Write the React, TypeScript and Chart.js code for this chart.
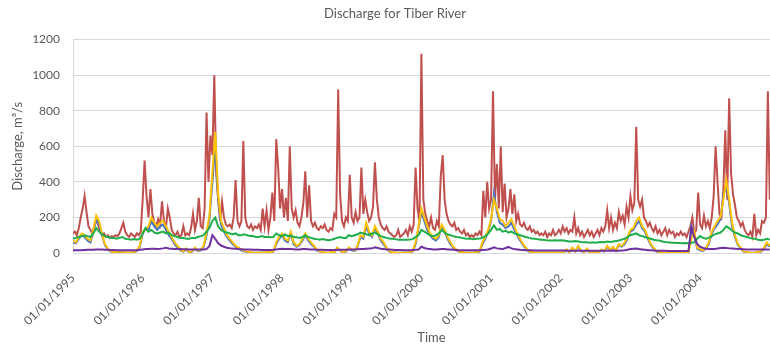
import { useEffect, useRef } from 'react';
import { Chart, registerables } from 'chart.js';

Chart.register(...registerables);

// Time axis: decimal years, first sample on 01/01/1995
const START_YEAR = 1995;
const TICK_YEARS = [1995, 1996, 1997, 1998, 1999, 2000, 2001, 2002, 2003, 2004];
const AXIS_MIN = 1995;
const AXIS_MAX = 2005.29;
const Y_TICKS = [0, 200, 400, 600, 800, 1000, 1200];

// Sampling rates (samples per year) of the stored series
const RED_PER_YEAR = 36;
const GAUGE_PER_YEAR = 24;

// Tiber at the outlet gauge, m³/s (10-day samples)
const RED = [
  // 1995
  110, 120, 100, 140, 200, 250, 320, 230, 150, 130, 110, 150, 190, 160, 120, 100, 110, 90,
  100, 85, 95, 90, 100, 95, 110, 140, 170, 120, 100, 90, 110, 100, 90, 110, 100, 120,
  // 1996
  300, 520, 320, 200, 360, 220, 170, 150, 190, 160, 290, 180, 140, 250, 200, 130, 110, 100,
  120, 90, 100, 150, 100, 110, 100, 140, 220, 130, 180, 310, 150, 140, 250, 790, 400, 660,
  // 1997
  550, 1000, 450, 300, 180, 290, 200, 160, 150, 160, 140, 200, 410, 180, 150, 180, 630, 200,
  150, 140, 160, 130, 150, 140, 160, 130, 250, 150, 240, 130, 200, 340, 180, 640, 480, 250,
  // 1998
  360, 200, 310, 180, 600, 250, 200, 240, 170, 150, 200, 280, 460, 200, 380, 180, 150, 170,
  140, 130, 150, 140, 160, 130, 120, 140, 130, 220, 200, 920, 330, 180, 150, 200, 180, 440,
  // 1999
  200, 170, 230, 180, 200, 480, 220, 300, 230, 180, 200, 260, 510, 300, 200, 160, 140, 130,
  150, 120, 110, 100, 90, 100, 130, 90, 100, 110, 130, 100, 150, 120, 160, 480, 250, 180,
  // 2000
  1120, 300, 220, 180, 150, 200, 140, 130, 180, 150, 430, 550, 300, 220, 180, 160, 150, 170,
  130, 140, 120, 110, 130, 100, 110, 90, 100, 90, 110, 100, 120, 100, 350, 200, 400, 250,
  // 2001
  300, 910, 300, 500, 250, 600, 230, 390, 200, 250, 360, 220, 330, 180, 220, 160, 150, 170,
  140, 130, 150, 120, 130, 110, 120, 100, 110, 100, 120, 90, 110, 100, 130, 100, 110, 130,
  // 2002
  110, 150, 120, 140, 110, 130, 120, 200, 110, 140, 100, 120, 90, 110, 130, 100, 120, 90,
  110, 130, 100, 140, 120, 150, 240, 140, 200, 130, 170, 140, 230, 180, 210, 160, 260, 200,
  // 2003
  320, 240, 280, 710, 300, 260, 300, 200, 180, 150, 170, 140, 120, 150, 110, 130, 100, 120,
  140, 100, 130, 110, 120, 90, 110, 100, 120, 100, 110, 90, 120, 150, 200, 110, 130, 340,
  // 2004
  160, 140, 210, 150, 180, 140, 200, 320, 600, 400, 220, 200, 350, 690, 300, 870, 450, 330,
  270, 200, 180, 150, 170, 130, 110, 100, 120, 90, 220, 100, 130, 110, 180, 170, 200, 910,
  // 2005
  300,
];

// Upstream gauge (drawn beneath the orange series), m³/s
const BLUE = [
  // 1995
  60, 55, 80, 100, 90, 70, 60, 120, 190, 160, 100, 45, 20, 8, 4, 2, 8, 4, 2, 2, 2, 4, 12, 35,
  // 1996
  110, 140, 130, 180, 150, 130, 150, 160, 130, 100, 80, 50, 30, 15, 8, 20, 4, 8, 25, 12, 15, 35, 100, 190,
  // 1997
  400, 600, 300, 160, 120, 90, 70, 50, 35, 25, 15, 10, 6, 4, 2, 2, 2, 2, 2, 4, 2, 8, 50, 80,
  // 1998
  100, 70, 60, 110, 50, 35, 45, 70, 100, 70, 50, 35, 15, 8, 4, 2, 2, 4, 2, 25, 12, 4, 8, 25,
  // 1999
  15, 12, 35, 90, 80, 150, 110, 90, 140, 110, 70, 50, 25, 8, 4, 2, 2, 2, 2, 2, 4, 8, 50, 140,
  // 2000
  230, 180, 130, 100, 80, 70, 90, 150, 120, 80, 50, 30, 15, 8, 4, 2, 2, 2, 2, 4, 8, 50, 80, 120,
  // 2001
  180, 335, 230, 170, 160, 140, 150, 170, 130, 100, 70, 45, 25, 8, 4, 2, 2, 2, 2, 2, 2, 2, 2, 2,
  // 2002
  2, 4, 15, 4, 25, 8, 35, 12, 4, 20, 2, 2, 4, 2, 15, 8, 35, 15, 30, 12, 45, 35, 50, 80,
  // 2003
  120, 130, 160, 180, 140, 120, 80, 45, 25, 8, 4, 2, 2, 2, 2, 2, 2, 2, 2, 2, 2, 150, 100, 25,
  // 2004
  15, 12, 25, 50, 110, 140, 160, 190, 320, 380, 280, 150, 90, 45, 25, 8, 4, 2, 2, 2, 4, 8, 25, 50,
  // 2005
  35,
];

// Tributary gauge, m³/s
const ORANGE = [
  // 1995
  70, 60, 90, 110, 100, 80, 70, 130, 210, 180, 110, 50, 25, 10, 5, 3, 10, 5, 2, 3, 2, 5, 15, 40,
  // 1996
  120, 130, 150, 200, 170, 150, 170, 180, 150, 120, 90, 60, 40, 20, 10, 25, 5, 10, 30, 15, 20, 40, 120, 210,
  // 1997
  450, 680, 330, 180, 140, 100, 80, 60, 40, 30, 20, 12, 8, 5, 3, 2, 2, 3, 2, 5, 3, 10, 60, 90,
  // 1998
  110, 80, 70, 120, 60, 40, 50, 80, 110, 80, 60, 40, 20, 10, 5, 3, 2, 5, 3, 30, 15, 5, 10, 30,
  // 1999
  20, 15, 40, 100, 90, 170, 120, 100, 150, 120, 80, 60, 30, 10, 5, 3, 2, 2, 3, 2, 5, 10, 60, 150,
  // 2000
  250, 200, 150, 110, 90, 80, 100, 160, 130, 90, 60, 35, 20, 10, 5, 3, 2, 3, 2, 5, 10, 60, 90, 130,
  // 2001
  190, 300, 250, 190, 180, 150, 170, 190, 150, 110, 80, 50, 30, 10, 5, 3, 2, 2, 3, 2, 2, 3, 2, 3,
  // 2002
  2, 5, 20, 5, 30, 10, 40, 15, 5, 25, 3, 2, 5, 3, 20, 10, 40, 20, 35, 15, 50, 40, 60, 90,
  // 2003
  130, 140, 180, 200, 150, 130, 90, 50, 30, 10, 5, 3, 2, 2, 2, 3, 2, 2, 3, 2, 3, 80, 120, 30,
  // 2004
  20, 15, 30, 60, 120, 150, 180, 200, 300, 410, 300, 170, 100, 50, 30, 10, 5, 3, 2, 3, 5, 10, 30, 60,
  // 2005
  40,
];

// Middle-course gauge, m³/s
const GREEN = [
  // 1995
  80, 85, 90, 95, 100, 95, 90, 110, 140, 120, 105, 95, 90, 85, 85, 80, 85, 90, 80, 78, 75, 78, 75, 80,
  // 1996
  110, 140, 120, 130, 115, 110, 115, 120, 110, 115, 100, 95, 90, 85, 85, 80, 80, 85, 85, 90, 95, 100, 120, 140,
  // 1997
  180, 200, 150, 130, 120, 115, 110, 105, 110, 100, 100, 105, 100, 95, 95, 90, 90, 95, 90, 90, 88, 90, 110, 100,
  // 1998
  95, 105, 95, 100, 90, 88, 85, 90, 100, 90, 85, 80, 78, 75, 78, 75, 72, 75, 80, 85, 90, 85, 85, 100,
  // 1999
  95, 100, 105, 115, 110, 105, 100, 110, 115, 105, 95, 90, 85, 82, 80, 78, 75, 75, 74, 75, 76, 78, 90, 100,
  // 2000
  130, 120, 110, 100, 95, 100, 110, 130, 115, 105, 100, 95, 90, 88, 85, 82, 80, 80, 78, 80, 82, 85, 95, 110,
  // 2001
  130, 155, 130, 135, 120, 125, 115, 120, 110, 105, 100, 95, 90, 85, 82, 80, 78, 75, 75, 72, 70, 70, 72, 70,
  // 2002
  72, 70, 68, 65, 65, 68, 65, 62, 60, 60, 58, 60, 58, 60, 62, 60, 65, 62, 65, 68, 70, 75, 80, 90,
  // 2003
  100, 105, 110, 100, 95, 90, 85, 80, 75, 72, 70, 65, 62, 60, 58, 58, 56, 56, 55, 56, 55, 58, 60, 80,
  // 2004
  95, 85, 80, 85, 95, 105, 110, 115, 130, 150, 140, 125, 115, 110, 100, 95, 90, 85, 82, 80, 75, 72, 75, 80,
  // 2005
  75,
];

// Headwater gauge, m³/s
const PURPLE = [
  // 1995
  15, 15, 16, 16, 17, 18, 18, 18, 20, 20, 19, 18, 18, 17, 17, 16, 16, 16, 15, 15, 15, 15, 16, 18,
  // 1996
  20, 22, 22, 24, 24, 23, 24, 26, 30, 25, 24, 23, 22, 22, 21, 21, 20, 20, 20, 20, 20, 20, 22, 40,
  // 1997
  100, 80, 55, 42, 35, 30, 27, 25, 24, 22, 21, 20, 20, 19, 18, 18, 18, 17, 17, 17, 17, 18, 20, 22,
  // 1998
  24, 22, 22, 22, 21, 20, 20, 22, 22, 21, 20, 19, 18, 18, 18, 17, 17, 17, 17, 18, 18, 18, 18, 20,
  // 1999
  20, 20, 21, 22, 22, 24, 25, 26, 32, 28, 24, 22, 20, 19, 18, 17, 17, 17, 16, 16, 16, 17, 18, 20,
  // 2000
  35, 28, 24, 22, 20, 20, 21, 22, 22, 20, 19, 18, 17, 16, 16, 15, 15, 15, 15, 15, 16, 17, 18, 20,
  // 2001
  25, 32, 26, 24, 22, 28, 34, 26, 22, 20, 18, 17, 16, 15, 15, 14, 14, 14, 14, 14, 14, 14, 14, 14,
  // 2002
  14, 14, 14, 13, 13, 13, 13, 13, 12, 12, 12, 12, 12, 12, 12, 12, 12, 12, 13, 13, 13, 14, 15, 18,
  // 2003
  22, 24, 25, 22, 20, 18, 16, 15, 14, 13, 12, 12, 12, 11, 11, 11, 11, 11, 11, 11, 12, 140, 90, 50,
  // 2004
  35, 28, 24, 22, 22, 23, 25, 28, 30, 28, 26, 25, 24, 23, 22, 21, 20, 20, 20, 19, 19, 19, 19, 19,
  // 2005
  20,
];

const TEXT_COLOR = '#595959';
const GRID_COLOR = '#D9D9D9';
const FONT = 'Lato, "Open Sans", sans-serif';

function toPoints(values: number[], perYear: number) {
  return values.map((v, i) => ({ x: START_YEAR + i / perYear, y: v }));
}

function line(label: string, values: number[], perYear: number, color: string) {
  return {
    label,
    data: toPoints(values, perYear),
    borderColor: color,
    backgroundColor: color,
    borderWidth: 2,
    pointRadius: 0,
    tension: 0,
    fill: false,
  };
}

export default function App() {
  const canvasRef = useRef<HTMLCanvasElement | null>(null);

  useEffect(() => {
    if (!canvasRef.current) return;
    const chart = new Chart(canvasRef.current, {
      type: 'line',
      data: {
        // first dataset is painted last (on top)
        datasets: [
          line('Purple', PURPLE, GAUGE_PER_YEAR, '#7030A0'),
          line('Green', GREEN, GAUGE_PER_YEAR, '#1FAE4B'),
          line('Orange', ORANGE, GAUGE_PER_YEAR, '#FFC000'),
          line('Blue', BLUE, GAUGE_PER_YEAR, '#4472C4'),
          line('Red', RED, RED_PER_YEAR, '#C0504D'),
        ],
      },
      options: {
        responsive: false,
        animation: false,
        events: [],
        layout: { padding: { left: 0, right: 0, top: 0, bottom: 0 } },
        plugins: {
          legend: { display: false },
          tooltip: { enabled: false },
          title: {
            display: true,
            text: 'Discharge for Tiber River',
            color: TEXT_COLOR,
            font: { family: FONT, size: 13, weight: 'normal' },
            padding: { top: 6, bottom: 18 },
          },
        },
        scales: {
          x: {
            type: 'linear',
            min: AXIS_MIN,
            max: AXIS_MAX,
            afterBuildTicks: (scale: any) => {
              scale.ticks = TICK_YEARS.map((v) => ({ value: v }));
            },
            afterFit: (scale: any) => {
              scale.height = 100;
            },
            ticks: {
              autoSkip: false,
              minRotation: 45,
              maxRotation: 45,
              padding: 18,
              color: TEXT_COLOR,
              font: { family: FONT, size: 12 },
              callback: (v: any) => `01/01/${v}`,
            },
            grid: { display: false, drawTicks: false },
            border: { display: true, color: GRID_COLOR, width: 1 },
            title: {
              display: true,
              text: 'Time',
              color: TEXT_COLOR,
              font: { family: FONT, size: 13 },
              padding: { top: 0, bottom: 7 },
            },
          },
          y: {
            min: 0,
            max: 1200,
            afterBuildTicks: (scale: any) => {
              scale.ticks = Y_TICKS.map((v) => ({ value: v }));
            },
            afterFit: (scale: any) => {
              scale.width = 73;
            },
            ticks: {
              padding: 13,
              color: TEXT_COLOR,
              font: { family: FONT, size: 12 },
              callback: (v: any) => String(v),
            },
            grid: { color: GRID_COLOR, lineWidth: 1, drawTicks: false },
            border: { display: true, color: GRID_COLOR, width: 1 },
            title: {
              display: true,
              text: 'Discharge, m³/s',
              color: TEXT_COLOR,
              font: { family: FONT, size: 13 },
              padding: { top: 10, bottom: 0 },
            },
          },
        },
      } as any,
    });
    return () => chart.destroy();
  }, []);

  return (
    <div style={{ position: 'fixed', left: 0, top: 0, width: 790, height: 353, background: '#fff' }}>
      <canvas ref={canvasRef} width={790} height={353} style={{ display: 'block' }} />
    </div>
  );
}
